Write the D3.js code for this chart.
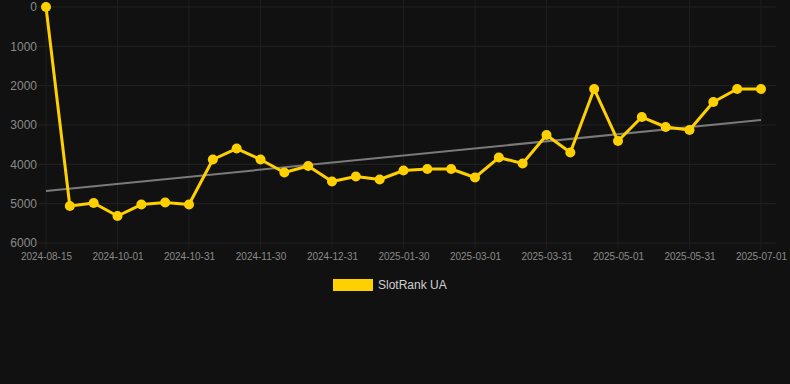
<!DOCTYPE html>
<html><head><meta charset="utf-8">
<script src="https://cdn.jsdelivr.net/npm/d3@7"></script>
<style>
html,body{margin:0;padding:0;background:#111111;}
svg{display:block;}
</style></head>
<body>
<svg id="c" width="790" height="384"></svg>
<script>
const dates = ["2024-08-15","2024-09-11","2024-09-21","2024-10-01","2024-10-11","2024-10-21","2024-10-31","2024-11-10","2024-11-20","2024-11-30","2024-12-10","2024-12-20","2024-12-31","2025-01-10","2025-01-20","2025-01-30","2025-02-09","2025-02-19","2025-03-01","2025-03-11","2025-03-21","2025-03-31","2025-04-10","2025-04-20","2025-05-01","2025-05-11","2025-05-21","2025-05-31","2025-06-10","2025-06-20","2025-07-01"];
const rankUA = [0,5060,4983,5314,5022,4970,5022,3877,3598,3877,4208,4043,4437,4310,4386,4157,4119,4119,4335,3827,3979,3254,3700,2085,3407,2797,3051,3127,2415,2085,2085];
const trendUA = [4678, 2873]; // trend line values at first and last date
const yTicks = [0,1000,2000,3000,4000,5000,6000];
const xTickLabels = ["2024-08-15","2024-10-01","2024-10-31","2024-11-30","2024-12-31","2025-01-30","2025-03-01","2025-03-31","2025-05-01","2025-05-31","2025-07-01"];
const seriesName = "SlotRank UA";

(function(){
const svg = d3.select("#c");
const pl = 46, pr = 761, pt = 7, pb = 243;
const x = d3.scalePoint().domain(dates).range([pl, pr]);
const y = d3.scaleLinear().domain([0, 6000]).range([pt, pb]);

// grid
const g = svg.append("g");
g.selectAll(".hg").data(yTicks).enter().append("line")
  .attr("x1", pl - 8).attr("x2", 776)
  .attr("y1", d => y(d)).attr("y2", d => y(d))
  .attr("stroke", "#232323").attr("stroke-width", 1);
g.selectAll(".vg").data(xTickLabels).enter().append("line")
  .attr("x1", d => x(d)).attr("x2", d => x(d))
  .attr("y1", 0).attr("y2", pb + 6)
  .attr("stroke", "#1e1e1e").attr("stroke-width", 1);

// y axis
const yAxis = d3.axisLeft(y).tickValues(yTicks).tickSize(0).tickPadding(0).tickFormat(d => d);
const ya = svg.append("g").attr("transform", `translate(${pl - 9},0)`).call(yAxis);
ya.select(".domain").remove();
ya.selectAll("text").attr("fill", "#8a8a8a").attr("font-size", 12).attr("font-family", "Arial, 'Liberation Sans', sans-serif");

// x axis
const xAxis = d3.axisBottom(x).tickValues(xTickLabels).tickSize(0).tickPadding(0);
const xa = svg.append("g").attr("transform", `translate(0,${pb + 10})`).call(xAxis);
xa.select(".domain").remove();
xa.selectAll("text").attr("fill", "#8a8a8a").attr("font-size", 10).attr("font-family", "Arial, 'Liberation Sans', sans-serif").attr("dy", "0.7em");

// trend line
const n = dates.length;
svg.append("line")
  .attr("x1", x(dates[0])).attr("y1", y(trendUA[0]))
  .attr("x2", x(dates[n - 1])).attr("y2", y(trendUA[1]))
  .attr("stroke", "#7a7a7a").attr("stroke-width", 2);

// line
const line = d3.line().x((d, i) => x(dates[i])).y(d => y(d));
svg.append("path").datum(rankUA).attr("d", line)
  .attr("fill", "none").attr("stroke", "#ffd000").attr("stroke-width", 3).attr("stroke-linejoin", "round");
svg.selectAll(".pt").data(rankUA).enter().append("circle")
  .attr("cx", (d, i) => x(dates[i])).attr("cy", d => y(d)).attr("r", 5)
  .attr("fill", "#ffd000");

// legend
svg.append("rect").attr("x", 333).attr("y", 279).attr("width", 40).attr("height", 12).attr("fill", "#ffd000");
svg.append("text").attr("x", 378).attr("y", 289).text(seriesName)
  .attr("fill", "#d0d0d0").attr("font-size", 12).attr("font-family", "Arial, 'Liberation Sans', sans-serif");
})();
</script>
</body></html>
